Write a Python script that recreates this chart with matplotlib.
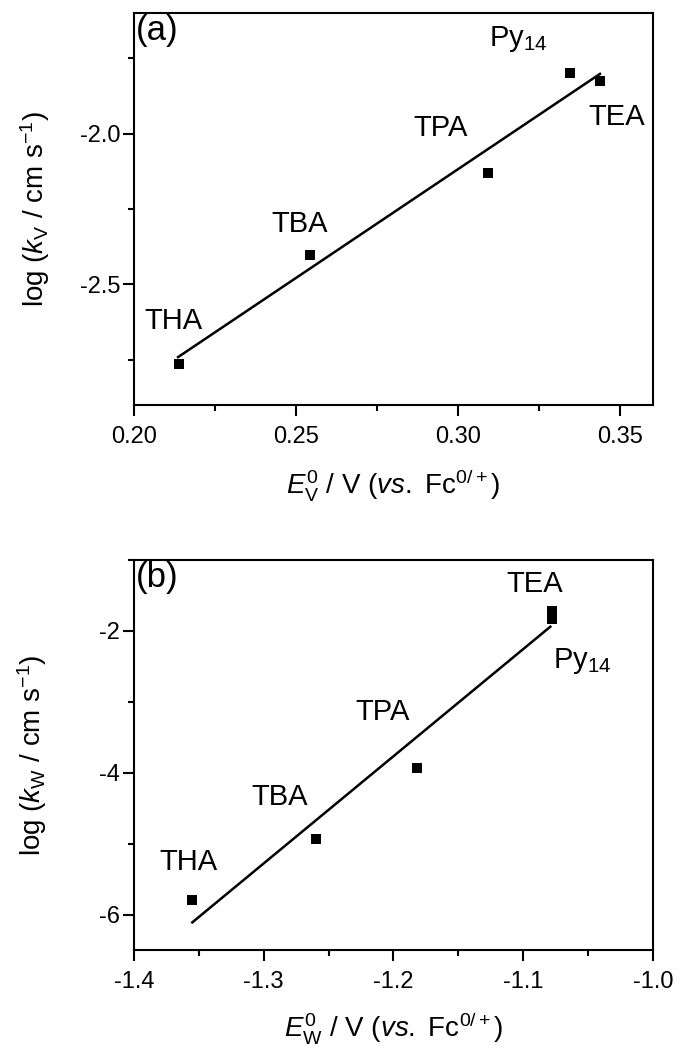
import matplotlib
matplotlib.use("Agg")
import matplotlib.pyplot as plt
from matplotlib.ticker import MultipleLocator, FormatStrFormatter

plt.rcParams['font.family'] = ['Liberation Sans', 'DejaVu Sans']
plt.rcParams['mathtext.fontset'] = 'custom'
plt.rcParams['mathtext.rm'] = 'Liberation Sans'
plt.rcParams['mathtext.it'] = 'Liberation Sans:italic'
plt.rcParams['mathtext.bf'] = 'Liberation Sans:bold'
plt.rcParams['axes.unicode_minus'] = False

# ---- data panel (a) ----
names_a = ['THA', 'TBA', 'TPA', 'Py$_{14}$', 'TEA']
ev = [0.214, 0.2542, 0.3092, 0.3345, 0.3437]
logkv = [-2.763, -2.402, -2.13, -1.80, -1.826]
fit_a_x = [0.2136, 0.3437]
fit_a_y = [-2.741, -1.802]

# ---- data panel (b) ----
names_b = ['THA', 'TBA', 'TPA', 'TEA', 'Py$_{14}$']
ew = [-1.355, -1.2597, -1.1818, -1.078, -1.078]
logkw = [-5.79, -4.93, -3.93, -1.72, -1.83]
fit_b_x = [-1.355, -1.079]
fit_b_y = [-6.11, -1.94]

fig = plt.figure(figsize=(6.8, 10.48), dpi=100)
ax1 = fig.add_axes([0.197, 0.6135, 0.763, 0.3741])
ax2 = fig.add_axes([0.197, 0.0935, 0.763, 0.3721])

TICK_FS = 17
LAB_FS = 20
ANN_FS = 21
PANEL_FS = 25

for ax in (ax1, ax2):
    for s in ax.spines.values():
        s.set_linewidth(1.5)
    ax.tick_params(which='major', direction='out', length=8, width=1.5,
                   labelsize=TICK_FS, top=False, right=False)
    ax.tick_params(which='minor', direction='out', length=4.5, width=1.5,
                   top=False, right=False)
    ax.tick_params(axis='x', which='major', pad=7)
    ax.tick_params(axis='y', which='major', pad=2)

# panel (a)
ax1.plot(ev, logkv, 's', color='black', ms=7.5, mew=0)
ax1.plot(fit_a_x, fit_a_y, '-', color='black', lw=1.8)
ax1.set_xlim(0.20, 0.36)
ax1.set_ylim(-2.9, -1.6)
ax1.xaxis.set_major_locator(MultipleLocator(0.05))
ax1.xaxis.set_minor_locator(MultipleLocator(0.025))
ax1.yaxis.set_major_locator(MultipleLocator(0.5))
ax1.yaxis.set_minor_locator(MultipleLocator(0.25))
ax1.xaxis.set_major_formatter(FormatStrFormatter('%.2f'))
ax1.yaxis.set_major_formatter(FormatStrFormatter('%.1f'))
ax1.set_xlabel(r'$E^{0}_{\rm V}$ / V ($vs.$ Fc$^{0/+}$)', fontsize=LAB_FS, labelpad=14)
ax1.set_ylabel(r'log ($k_{\rm V}$ / cm s$^{-1}$)', fontsize=LAB_FS, labelpad=20)
ax1.text(0.003, 0.998, '(a)', transform=ax1.transAxes, ha='left', va='top', fontsize=PANEL_FS)
ax1.text(0.2123, -2.62, names_a[0], ha='center', va='center', fontsize=ANN_FS)
ax1.text(0.251, -2.30, names_a[1], ha='center', va='center', fontsize=ANN_FS)
ax1.text(0.2944, -1.98, names_a[2], ha='center', va='center', fontsize=ANN_FS)
ax1.text(0.3096, -1.711, names_a[3], ha='left', va='baseline', fontsize=ANN_FS)
ax1.text(0.349, -1.944, names_a[4], ha='center', va='center', fontsize=ANN_FS)

# panel (b)
ax2.plot(ew, logkw, 's', color='black', ms=7.5, mew=0)
ax2.plot(fit_b_x, fit_b_y, '-', color='black', lw=1.8)
ax2.set_xlim(-1.4, -1.0)
ax2.set_ylim(-6.5, -1.0)
ax2.xaxis.set_major_locator(MultipleLocator(0.1))
ax2.xaxis.set_minor_locator(MultipleLocator(0.05))
ax2.yaxis.set_major_locator(MultipleLocator(2))
ax2.yaxis.set_minor_locator(MultipleLocator(1))
ax2.xaxis.set_major_formatter(FormatStrFormatter('%.1f'))
ax2.yaxis.set_major_formatter(FormatStrFormatter('%d'))
ax2.set_xlabel(r'$E^{0}_{\rm W}$ / V ($vs.$ Fc$^{0/+}$)', fontsize=LAB_FS, labelpad=12)
ax2.set_ylabel(r'log ($k_{\rm W}$ / cm s$^{-1}$)', fontsize=LAB_FS, labelpad=36)
ax2.text(0.003, 0.998, '(b)', transform=ax2.transAxes, ha='left', va='top', fontsize=PANEL_FS)
ax2.text(-1.358, -5.26, names_b[0], ha='center', va='center', fontsize=ANN_FS)
ax2.text(-1.288, -4.34, names_b[1], ha='center', va='center', fontsize=ANN_FS)
ax2.text(-1.208, -3.15, names_b[2], ha='center', va='center', fontsize=ANN_FS)
ax2.text(-1.091, -1.34, names_b[3], ha='center', va='center', fontsize=ANN_FS)
ax2.text(-1.077, -2.52, names_b[4], ha='left', va='baseline', fontsize=ANN_FS)

fig.savefig('out.png', dpi=100)
